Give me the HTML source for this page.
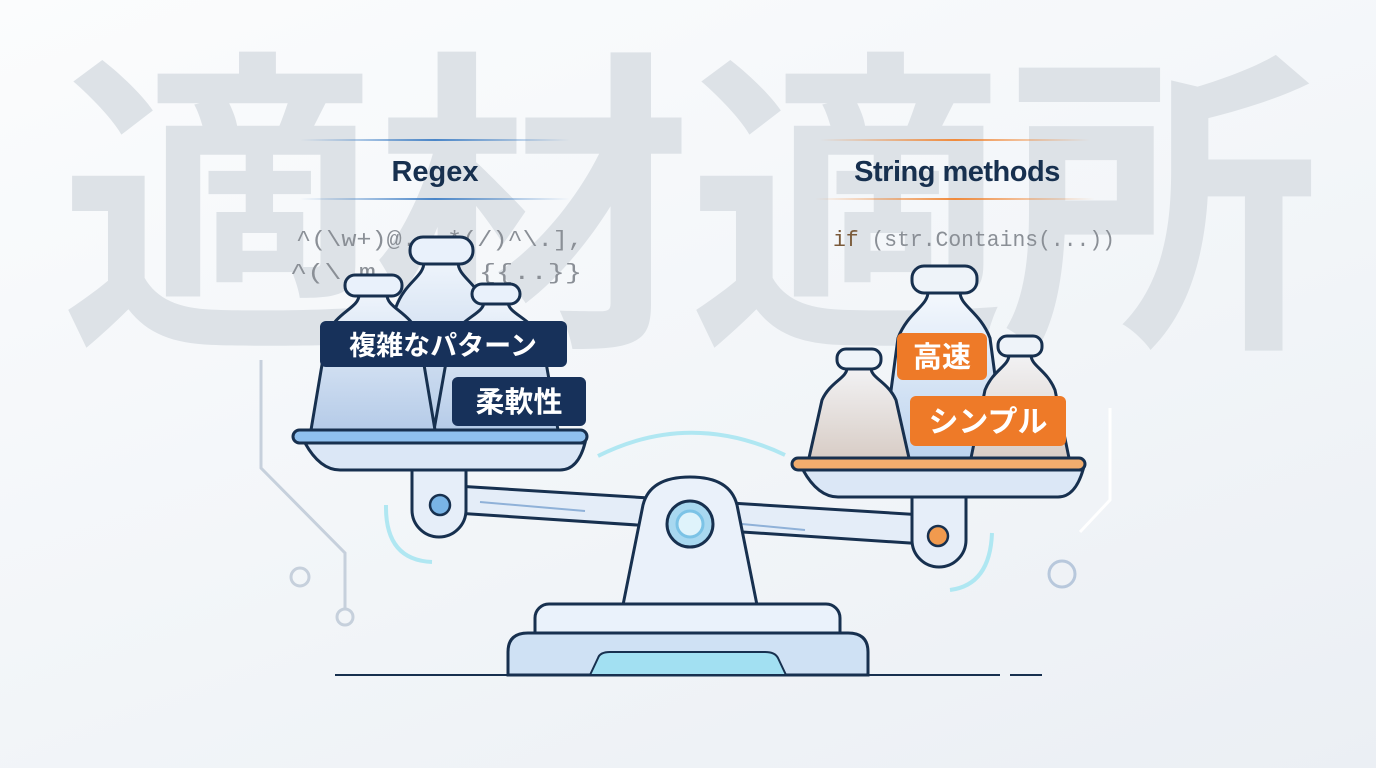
<!DOCTYPE html>
<html><head><meta charset="utf-8"><style>
html,body{margin:0;padding:0;width:1376px;height:768px;overflow:hidden;}
body{background:linear-gradient(160deg,#fbfcfd 0%,#f3f6f9 50%,#ebeff4 100%);}
svg{display:block}
</style></head><body>
<svg width="1376" height="768" viewBox="0 0 1376 768" xmlns="http://www.w3.org/2000/svg">
<defs>
<linearGradient id="gl" x1="0" x2="0" y1="0" y2="1"><stop offset="0" stop-color="#eef4fb"/><stop offset="1" stop-color="#b5cbe8"/></linearGradient>
<linearGradient id="gr" x1="0" x2="0" y1="0" y2="1"><stop offset="0" stop-color="#f2f2f4"/><stop offset="1" stop-color="#d8cdc6"/></linearGradient>
<linearGradient id="gm" x1="0" x2="0" y1="0" y2="1"><stop offset="0" stop-color="#f4f8fd"/><stop offset="1" stop-color="#bcd3ee"/></linearGradient>
<linearGradient id="bar" x1="0" x2="1"><stop offset="0" stop-color="#4a86c8" stop-opacity="0"/><stop offset=".5" stop-color="#4a86c8"/><stop offset="1" stop-color="#4a86c8" stop-opacity="0"/></linearGradient>
<linearGradient id="bar2" x1="0" x2="1"><stop offset="0" stop-color="#f08a3c" stop-opacity="0"/><stop offset=".5" stop-color="#f08a3c"/><stop offset="1" stop-color="#f08a3c" stop-opacity="0"/></linearGradient>
</defs>
<text x="688" y="322" text-anchor="middle" font-family="'Noto Sans CJK JP',sans-serif" font-weight="bold" font-size="318" fill="#dde2e7" letter-spacing="-4">適材適所</text>

<!-- titles -->
<rect x="300" y="139" width="270" height="2" fill="url(#bar)"/>
<rect x="300" y="198" width="270" height="2" fill="url(#bar)"/>
<text x="435" y="181" text-anchor="middle" font-family="'Liberation Sans',sans-serif" font-weight="bold" font-size="29" fill="#17304f">Regex</text>
<rect x="820" y="139" width="270" height="2" fill="url(#bar2)"/>
<rect x="815" y="198" width="280" height="2" fill="url(#bar2)"/>
<text x="957" y="181" text-anchor="middle" font-family="'Liberation Sans',sans-serif" font-weight="bold" font-size="29" fill="#17304f" letter-spacing="-0.5">String methods</text>
<g font-family="'Liberation Mono',monospace" font-size="22" fill="#8a8f96">
<text x="296" y="246" textLength="287" lengthAdjust="spacingAndGlyphs">^(\w+)@.  .*(/)^\.],</text>
<text x="290" y="279" textLength="292" lengthAdjust="spacingAndGlyphs">^(\.m.    .#] {{..}}</text>
<text x="833" y="246" textLength="282" lengthAdjust="spacingAndGlyphs"><tspan fill="#7a5a3a">if</tspan> (str.Contains(...))</text>
</g>

<!-- circuits -->
<polyline points="261,360 261,468 345,553 345,608" fill="none" stroke="#c6d0dc" stroke-width="3"/>
<circle cx="345" cy="617" r="8" fill="none" stroke="#c6d0dc" stroke-width="3"/>
<circle cx="300" cy="577" r="9" fill="none" stroke="#c6d0dc" stroke-width="3"/>
<polyline points="1110,408 1110,500 1080,532" fill="none" stroke="#ffffff" stroke-width="3"/>
<circle cx="1062" cy="574" r="13" fill="none" stroke="#b8c8dc" stroke-width="3"/>

<!-- glow arcs -->
<g fill="none" stroke="#9fe4f0" stroke-width="4" opacity=".8">
<path d="M598,456 Q690,410 785,455"/>
<path d="M386,505 Q385,560 432,562"/>
<path d="M992,533 Q990,585 950,590"/>
</g>

<!-- beam -->
<path d="M440,485 L940,516 L940,545 L440,512 Z" fill="#e4edf8" stroke="#17304f" stroke-width="3"/>
<line x1="480" y1="502" x2="585" y2="511" stroke="#8fb1d8" stroke-width="2"/>
<line x1="700" y1="520" x2="805" y2="530" stroke="#8fb1d8" stroke-width="2"/>
<path d="M412,470 L466,470 L466,510 A27,27 0 0 1 412,510 Z" fill="#e6eef9" stroke="#17304f" stroke-width="3"/>
<circle cx="440" cy="505" r="10" fill="#79b4e6" stroke="#17304f" stroke-width="2.5"/>
<path d="M912,497 L966,497 L966,540 A27,27 0 0 1 912,540 Z" fill="#e6eef9" stroke="#17304f" stroke-width="3"/>
<circle cx="938" cy="536" r="10" fill="#f19a4e" stroke="#17304f" stroke-width="2.5"/>

<!-- pivot -->
<path d="M623,605 L643,505 Q650,477 690,477 Q730,477 737,505 L757,605 Z" fill="#eaf1fa" stroke="#17304f" stroke-width="3"/>
<circle cx="690" cy="524" r="23" fill="#a8d8f0" stroke="#17304f" stroke-width="3"/>
<circle cx="690" cy="524" r="13" fill="#dff3fb" stroke="#7cc3e6" stroke-width="3"/>
<rect x="535" y="604" width="305" height="42" rx="14" fill="#eaf2fb" stroke="#17304f" stroke-width="3"/>
<path d="M508,675 L508,652 Q508,633 528,633 L848,633 Q868,633 868,652 L868,675 Z" fill="#cfe1f4" stroke="#17304f" stroke-width="3"/>
<path d="M590,675 L598,658 Q600,652 610,652 L765,652 Q775,652 778,658 L786,675 Z" fill="#a2e0f2" stroke="#17304f" stroke-width="2"/>
<line x1="335" y1="675" x2="1000" y2="675" stroke="#17304f" stroke-width="2"/>
<line x1="1010" y1="675" x2="1042" y2="675" stroke="#17304f" stroke-width="2"/>

<!-- left weights -->
<g stroke="#17304f" stroke-width="3" stroke-linejoin="round">
<path d="M424,262 C424,277 405,282 396,307 L381,430 L501,430 L486,307 C477,282 458,277 458,262 Z" fill="url(#gl)"/>
<rect x="410" y="237" width="63" height="27" rx="13" fill="#e9f1fb"/>
<path d="M484,302 C484,314 460,318 450,340 L434,430 L558,430 L542,340 C532,318 508,314 508,302 Z" fill="url(#gl)"/>
<rect x="472" y="284" width="48" height="20" rx="10" fill="#e9f1fb"/>
<path d="M359,295 C359,308 336,312 327,335 L311,430 L435,430 L419,335 C410,312 387,308 387,295 Z" fill="url(#gl)"/>
<rect x="345" y="275" width="57" height="21" rx="10" fill="#e9f1fb"/>
</g>
<path d="M305,443 Q320,470 340,470 L560,470 Q578,470 585,443 Z" fill="#dbe7f6" stroke="#17304f" stroke-width="3"/>
<rect x="293" y="430" width="294" height="13" rx="6.5" fill="#8fc0ee" stroke="#17304f" stroke-width="3"/>

<!-- right weights -->
<g stroke="#17304f" stroke-width="3" stroke-linejoin="round">
<path d="M928,292 C928,306 908,312 898,338 L882,458 L1006,458 L990,338 C980,312 960,306 960,292 Z" fill="url(#gm)"/>
<rect x="912" y="266" width="65" height="27" rx="12" fill="#eef3f9"/>
<path d="M1009,355 C1009,366 993,370 985,390 L971,458 L1069,458 L1055,390 C1047,370 1031,366 1031,355 Z" fill="url(#gr)"/>
<rect x="998" y="336" width="44" height="20" rx="9" fill="#eef3f9"/>
<path d="M847,368 C847,378 830,382 822,400 L809,458 L909,458 L896,400 C888,382 871,378 871,368 Z" fill="url(#gr)"/>
<rect x="837" y="349" width="44" height="20" rx="9" fill="#eef3f9"/>
</g>
<path d="M803,470 Q818,497 838,497 L1058,497 Q1075,497 1083,470 Z" fill="#dbe7f6" stroke="#17304f" stroke-width="3"/>
<rect x="792" y="458" width="293" height="12" rx="6" fill="#f2ad6e" stroke="#17304f" stroke-width="3"/>

<!-- labels -->
<rect x="320" y="321" width="247" height="46" rx="6" fill="#17315a"/>
<text x="443" y="355" text-anchor="middle" font-family="'Noto Sans CJK JP',sans-serif" font-weight="bold" font-size="27" fill="#fff">複雑なパターン</text>
<rect x="452" y="377" width="134" height="49" rx="6" fill="#17315a"/>
<text x="519" y="412" text-anchor="middle" font-family="'Noto Sans CJK JP',sans-serif" font-weight="bold" font-size="29" fill="#fff">柔軟性</text>
<rect x="897" y="333" width="90" height="47" rx="6" fill="#ee7a28"/>
<text x="942" y="367" text-anchor="middle" font-family="'Noto Sans CJK JP',sans-serif" font-weight="bold" font-size="29" fill="#fff">高速</text>
<rect x="910" y="396" width="156" height="50" rx="6" fill="#ee7a28"/>
<text x="988" y="432" text-anchor="middle" font-family="'Noto Sans CJK JP',sans-serif" font-weight="bold" font-size="30" fill="#fff">シンプル</text>
</svg>
</body></html>
